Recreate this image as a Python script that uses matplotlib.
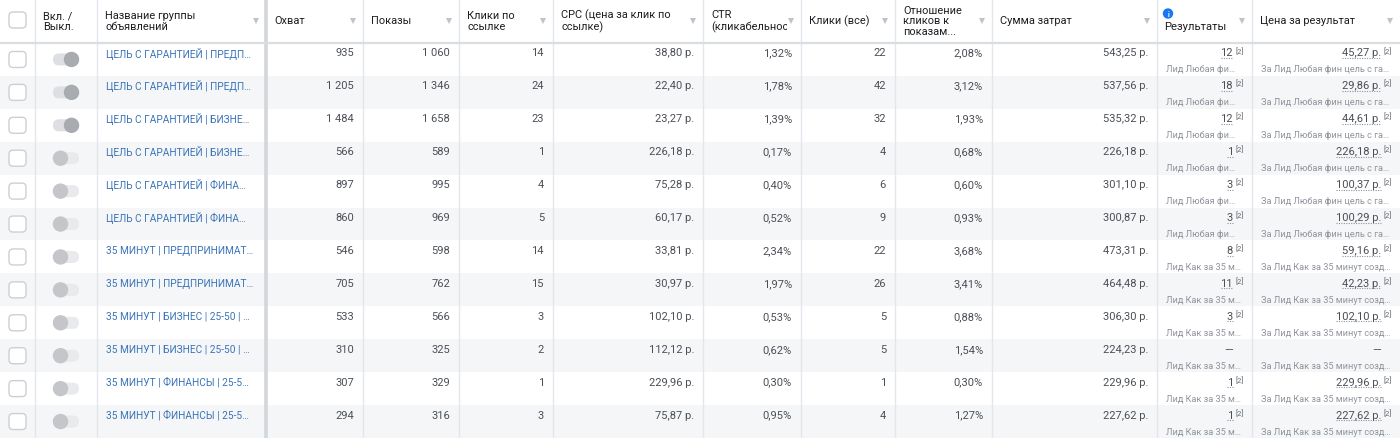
import matplotlib.pyplot as plt
from matplotlib.patches import Rectangle, FancyBboxPatch, Circle
from matplotlib.transforms import Bbox, TransformedBbox

plt.rcParams['font.family'] = ['Roboto', 'DejaVu Sans']

# ---- data ----
headers = ["", "Вкл. /\nВыкл.", "Название группы\nобъявлений", "Охват", "Показы",
           "Клики по\nссылке", "CPC (цена за клик по\nссылке)", "CTR\n(кликабельность",
           "Клики (все)", "Отношение\nкликов к\nпоказам...", "Сумма затрат",
           "Результаты", "Цена за результат"]
names = ["ЦЕЛЬ С ГАРАНТИЕЙ | ПРЕДП…", "ЦЕЛЬ С ГАРАНТИЕЙ | ПРЕДП…",
         "ЦЕЛЬ С ГАРАНТИЕЙ | БИЗНЕ…", "ЦЕЛЬ С ГАРАНТИЕЙ | БИЗНЕ…",
         "ЦЕЛЬ С ГАРАНТИЕЙ | ФИНА…", "ЦЕЛЬ С ГАРАНТИЕЙ | ФИНА…",
         "35 МИНУТ | ПРЕДПРИНИМАТ…", "35 МИНУТ | ПРЕДПРИНИМАТ…",
         "35 МИНУТ | БИЗНЕС | 25-50 | …", "35 МИНУТ | БИЗНЕС | 25-50 | …",
         "35 МИНУТ | ФИНАНСЫ | 25-5…", "35 МИНУТ | ФИНАНСЫ | 25-5…"]
active = [True, True, True, False, False, False, False, False, False, False, False, False]
reach = [935, 1205, 1484, 566, 897, 860, 546, 705, 533, 310, 307, 294]
impressions = [1060, 1346, 1658, 589, 995, 969, 598, 762, 566, 325, 329, 316]
link_clicks = [14, 24, 23, 1, 4, 5, 14, 15, 3, 2, 1, 3]
cpc = [38.80, 22.40, 23.27, 226.18, 75.28, 60.17, 33.81, 30.97, 102.10, 112.12, 229.96, 75.87]
ctr = [1.32, 1.78, 1.39, 0.17, 0.40, 0.52, 2.34, 1.97, 0.53, 0.62, 0.30, 0.95]
clicks_all = [22, 42, 32, 4, 6, 9, 22, 26, 5, 5, 1, 4]
click_ratio = [2.08, 3.12, 1.93, 0.68, 0.60, 0.93, 3.68, 3.41, 0.88, 1.54, 0.30, 1.27]
spend = [543.25, 537.56, 535.32, 226.18, 301.10, 300.87, 473.31, 464.48, 306.30, 224.23, 229.96, 227.62]
results = [12, 18, 12, 1, 3, 3, 8, 11, 3, None, 1, 1]
result_labels = ["Лид Любая фи…"] * 6 + ["Лид Как за 35 м…"] * 6
cost_per_result = [45.27, 29.86, 44.61, 226.18, 100.37, 100.29, 59.16, 42.23, 102.10, None, 229.96, 227.62]
cost_labels = ["За Лид Любая фин цель с га…"] * 6 + ["За Лид Как за 35 минут созд…"] * 6

# ---- layout ----
W, H = 1400, 439
col_edges = [0, 35, 97, 266, 363, 459, 553, 703, 801, 895, 992, 1157, 1252, 1400]
head_h = 44
row_h = (H - head_h) / len(names)
grid_c = '#e4e6eb'
text_c = '#4b4f56'
head_c = '#1c1e21'
link_c = '#3b74b8'
sub_c = '#90949c'


def fmt_int(v):
    return f"{v:,}".replace(",", " ")


def fmt_money(v):
    return f"{v:,.2f}".replace(",", " ").replace(".", ",") + " р."


def fmt_pct(v):
    return f"{v:.2f}".replace(".", ",") + "%"


fig = plt.figure(figsize=(14, 4.39), dpi=100)
ax = fig.add_axes([0, 0, 1, 1])
ax.set_xlim(0, W)
ax.set_ylim(H, 0)
ax.axis('off')

# row backgrounds
for i in range(len(names)):
    if i % 2 == 1:
        ax.add_patch(Rectangle((0, head_h + i * row_h), W, row_h, color='#f5f6f7', lw=0, zorder=0))

# grid lines
for x in col_edges[1:-1]:
    if x == 266:
        ax.plot([x, x], [0, H], color='#d3d6da', lw=2.6, zorder=1)
    else:
        ax.plot([x, x], [0, H], color=grid_c, lw=1, zorder=1)
ax.plot([0, W], [head_h, head_h], color='#dadde1', lw=1.6, zorder=1)


def checkbox(cy):
    ax.add_patch(FancyBboxPatch((9, cy - 8), 17, 16, boxstyle='round,pad=0,rounding_size=4',
                                fc='white', ec='#ccd0d5', lw=1, zorder=2))


# header
checkbox(21)
for j, h in enumerate(headers):
    if not h:
        continue
    x0, x1 = col_edges[j], col_edges[j + 1]
    if h == "Результаты":
        ax.add_patch(Circle((x0 + 11, 14.5), 4.5, color='#1877f2', zorder=3))
        ax.text(x0 + 11, 14.8, "i", color='white', fontsize=5, fontweight='bold',
                ha='center', va='center', zorder=4)
        ax.text(x0 + 7, 26.5, h, color=head_c, fontsize=8.1, ha='left', va='center')
    else:
        t = ax.text(x0 + 8, 21.5, h, color=head_c, fontsize=7.9, ha='left', va='center',
                    linespacing=1.1)
        if h.startswith("CTR"):
            t.set_clip_box(TransformedBbox(Bbox.from_extents(x0, 0, x1 - 14, head_h), ax.transData))
            t.set_clip_on(True)
    if j >= 2:
        ax.plot(x1 - 10, 22, marker='v', ms=4, color='#bec3c9', mew=0)

# body
columns = [(3, reach, fmt_int), (4, impressions, fmt_int), (5, link_clicks, fmt_int),
           (6, cpc, fmt_money), (7, ctr, fmt_pct), (8, clicks_all, fmt_int),
           (9, click_ratio, fmt_pct), (10, spend, fmt_money)]

underlined = []
for i in range(len(names)):
    top = head_h + i * row_h
    cy = top + row_h / 2
    ty = top + 9.5
    checkbox(cy)
    # toggle
    ax.add_patch(FancyBboxPatch((53, cy - 6), 26, 12, boxstyle='round,pad=0,rounding_size=6',
                                fc='#dddfe2' if active[i] else '#e9eaec', lw=0, zorder=2))
    ax.add_patch(Circle((71.5 if active[i] else 60.5, cy), 7,
                        color='#a8abaf' if active[i] else '#c4c6c9', zorder=3))
    ax.text(106, ty, names[i], color=link_c, fontsize=7.3, ha='left', va='center')
    for j, vals, f in columns:
        ax.text(col_edges[j + 1] - 9, ty, f(vals[i]), color=text_c, fontsize=8,
                ha='right', va='center')
    # results + cost per result
    for j, v, f, lab in [(11, results[i], fmt_int, result_labels[i]),
                         (12, cost_per_result[i], fmt_money, cost_labels[i])]:
        x0, x1 = col_edges[j], col_edges[j + 1]
        if v is None:
            ax.text(x1 - 19, ty, "—", color=text_c, fontsize=8, ha='right', va='center')
        else:
            t = ax.text(x1 - 19, ty, f(v), color=text_c, fontsize=8, ha='right', va='center')
            underlined.append(t)
            ax.text(x1 - 16, ty - 2.5, "[2]", color='#606770', fontsize=5.5, ha='left', va='center')
        ax.text(x0 + 9, top + 26, lab, color=sub_c, fontsize=6.6, ha='left', va='center')

# dotted underline beneath result values
fig.canvas.draw()
r = fig.canvas.get_renderer()
inv = ax.transData.inverted()
for t in underlined:
    bb = t.get_window_extent(r)
    (xa, ya), (xb, yb) = inv.transform([[bb.x0, bb.y0], [bb.x1, bb.y1]])
    ax.plot([xa, xb], [ya + 0.5, ya + 0.5], color='#8d949e', lw=0.8, ls=(0, (1, 1.2)))

fig.savefig('out.png', dpi=100)
